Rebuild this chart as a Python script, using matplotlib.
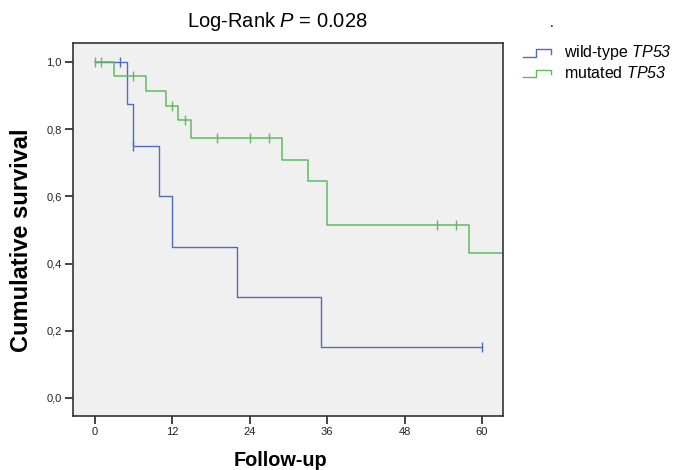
"""Kaplan-Meier survival by TP53 status."""

import matplotlib

matplotlib.use("Agg")
import matplotlib.pyplot as plt
from matplotlib.legend_handler import HandlerLine2D
from matplotlib.lines import Line2D
from matplotlib.ticker import FuncFormatter

plt.rcParams["font.family"] = ["Liberation Sans", "DejaVu Sans"]
# every math run here is an italic symbol (P, TP53), digits included
plt.rcParams["mathtext.fontset"] = "custom"
plt.rcParams["mathtext.rm"] = "Liberation Sans:italic"
plt.rcParams["mathtext.it"] = "Liberation Sans:italic"

# step curves: event times (months) and survival after each step
wt_times = [0, 5, 6, 10, 12, 22, 35, 60]
wt_surv = [1.0, 0.875, 0.75, 0.60, 0.45, 0.30, 0.15, 0.15]
wt_cens_times = [4, 6, 60]
wt_cens_surv = [1.0, 0.75, 0.15]

mut_times = [0, 3, 8, 11, 13, 15, 29, 33, 36, 58, 66]
mut_surv = [1.0, 0.957, 0.913, 0.870, 0.826, 0.774, 0.709, 0.645, 0.516, 0.430, 0.430]
mut_cens_times = [0, 1, 6, 12, 14, 19, 24, 27, 53, 56]
mut_cens_surv = [1.0, 1.0, 0.957, 0.870, 0.826, 0.774, 0.774, 0.774, 0.516, 0.516]

x_ticks = [0, 12, 24, 36, 48, 60]
y_ticks = [0.0, 0.2, 0.4, 0.6, 0.8, 1.0]
group_labels = ["wild-type $\\mathrm{TP53}$", "mutated $\\mathrm{TP53}$"]

BLUE = "#4f6cc0"
GREEN = "#62b862"


class StepHandler(HandlerLine2D):
    """Legend glyph shaped like a small survival step."""

    def create_artists(self, legend, orig_handle, xdescent, ydescent,
                       width, height, fontsize, trans):
        x0, x1 = -xdescent, -xdescent + width
        y0, y1 = -ydescent + 0.05 * height, -ydescent + 0.7 * height
        xm = x0 + 0.45 * (x1 - x0)
        line = Line2D([x0, xm, xm, x1, x1], [y0, y0, y1, y1, y0 + 0.4 * (y1 - y0)],
                      color=orig_handle.get_color(), linewidth=1.0)
        line.set_transform(trans)
        return [line]


def main() -> None:
    fig = plt.figure(figsize=(6.82, 4.70), dpi=100)
    ax = fig.add_axes([73 / 682, 1 - 416 / 470, 430 / 682, 373 / 470])
    ax.set_facecolor("#f0f0f0")

    ax.step(wt_times, wt_surv, where="post", color=BLUE, lw=1.0)
    ax.step(mut_times, mut_surv, where="post", color=GREEN, lw=1.1)
    ax.plot(wt_cens_times, wt_cens_surv, ls="none", marker="|", ms=7,
            mew=1.0, color=BLUE)
    ax.plot(mut_cens_times, mut_cens_surv, ls="none", marker="|", ms=7,
            mew=1.0, color=GREEN)

    ax.set_xlim(-3.33, 63.25)
    ax.set_ylim(-0.054, 1.0565)
    ax.set_xticks(x_ticks)
    ax.set_yticks(y_ticks)
    ax.yaxis.set_major_formatter(FuncFormatter(lambda v, _: f"{v:.1f}".replace(".", ",")))
    ax.tick_params(direction="out", length=6, width=1.2, color="#222222",
                   labelsize=8, labelcolor="#222222", pad=2)
    for spine in ax.spines.values():
        spine.set_color("#333333")
        spine.set_linewidth(1.2)

    fig.text(277 / 682, 1 - 27 / 470, "Log-Rank $P$ = 0.028", fontsize=14.5,
             ha="center", va="baseline")
    fig.text(552 / 682, 1 - 27 / 470, ".", fontsize=10, ha="center", va="baseline")
    fig.text(280 / 682, 1 - 466 / 470, "Follow-up", fontsize=14.3, fontweight="bold",
             ha="center", va="baseline")
    fig.text(22 / 682, 1 - 240 / 470, "Cumulative survival", fontsize=17,
             fontweight="bold", rotation=90, ha="center", va="center")

    handles = [Line2D([], [], color=BLUE), Line2D([], [], color=GREEN)]
    fig.legend(handles, group_labels, loc="upper left",
               bbox_to_anchor=(520 / 682, 1 - 40 / 470), frameon=False,
               fontsize=11.5, handlelength=1.75, handletextpad=0.8,
               labelspacing=0.15, borderaxespad=0, borderpad=0.2,
               handler_map={Line2D: StepHandler()})

    fig.savefig("out.png", dpi=100)
    plt.close(fig)


if __name__ == "__main__":
    main()
